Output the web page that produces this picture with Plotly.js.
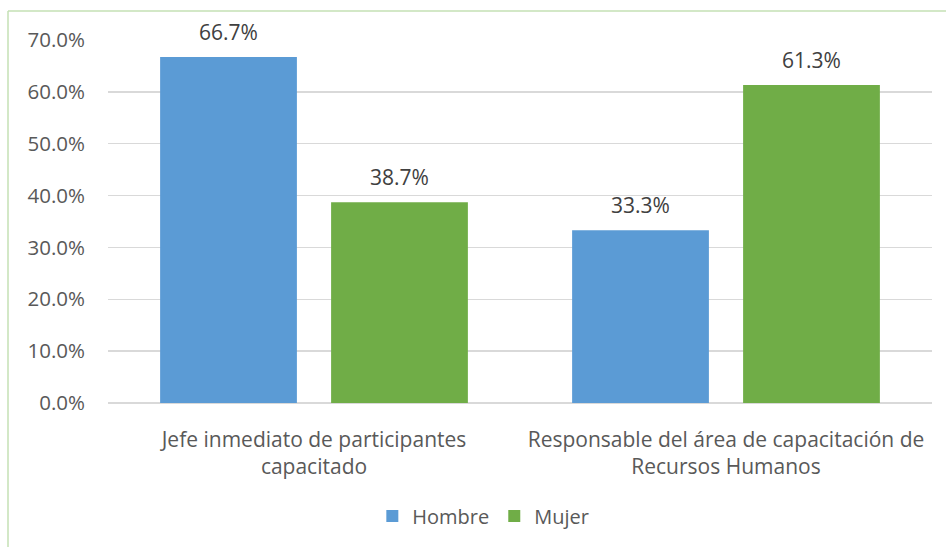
<!DOCTYPE html>
<html>
<head>
<meta charset="utf-8">
<script src="https://cdn.plot.ly/plotly-3.0.1.min.js"></script>
<style>
html,body{margin:0;padding:0;background:#fff;}
#chart{width:946px;height:547px;}
</style>
</head>
<body>
<div id="chart"></div>
<script>
var categories = ["Jefe inmediato de participantes<br>capacitado", "Responsable del área de capacitación de<br>Recursos Humanos"];
var hombre = [66.7, 33.3];
var mujer = [38.7, 61.3];
var seriesNames = ["Hombre", "Mujer"];
var yTickVals = [0, 10, 20, 30, 40, 50, 60, 70];
var yTickText = ["0.0%", "10.0%", "20.0%", "30.0%", "40.0%", "50.0%", "60.0%", "70.0%"];

var FONT = "'Open Sans', sans-serif";
var colors = ["#5B9BD5", "#70AD47"];
var series = [hombre, mujer];
var shifts = [-85.5, 85.5];

var traces = series.map(function (vals, i) {
  return {
    type: "bar",
    name: seriesNames[i],
    x: categories,
    y: vals,
    marker: { color: colors[i] },
    hoverinfo: "skip"
  };
});

var annotations = [];
series.forEach(function (vals, i) {
  vals.forEach(function (v, j) {
    annotations.push({
      x: categories[j], y: v, xref: "x", yref: "y",
      text: v.toFixed(1) + "%", showarrow: false,
      xshift: shifts[i], yshift: 25, yanchor: "middle",
      font: { family: FONT, size: 21, color: "#404040" }
    });
  });
});

var layout = {
  width: 946, height: 547,
  margin: { l: 108, r: 14, t: 40, b: 144 },
  paper_bgcolor: "#ffffff",
  plot_bgcolor: "#ffffff",
  barmode: "group",
  bargap: 0.17,
  bargroupgap: 0.2,
  showlegend: true,
  legend: {
    orientation: "h", x: 0.4555, xanchor: "center", y: -0.311, yanchor: "middle",
    font: { family: FONT, size: 20, color: "#595959" },
    itemwidth: 30, traceorder: "normal"
  },
  xaxis: {
    type: "category",
    tickfont: { family: FONT, size: 21, color: "#595959" },
    showline: false, showgrid: false, zeroline: false,
    ticks: "", ticklabelstandoff: 22
  },
  yaxis: {
    range: [0, 70],
    tickvals: yTickVals, ticktext: yTickText,
    tickfont: { family: FONT, size: 20.5, color: "#595959" },
    showgrid: true, gridcolor: "#D9D9D9", gridwidth: 1.5,
    zeroline: true, zerolinecolor: "#D9D9D9", zerolinewidth: 1.5,
    showline: false, ticks: "", ticklabelstandoff: 22,
    fixedrange: true
  },
  annotations: annotations,
  shapes: [
    { type: "line", xref: "paper", yref: "paper",
      x0: -100/824, x1: -100/824, y0: (403-11)/363, y1: -1,
      line: { color: "#C5E0B4", width: 1.5 } },
    { type: "line", xref: "paper", yref: "paper",
      x0: -100/824, x1: 1.02, y0: (403-11)/363, y1: (403-11)/363,
      line: { color: "#C5E0B4", width: 1.5 } }
  ]
};

Plotly.newPlot("chart", traces, layout, { staticPlot: true, displayModeBar: false });
</script>
</body>
</html>
